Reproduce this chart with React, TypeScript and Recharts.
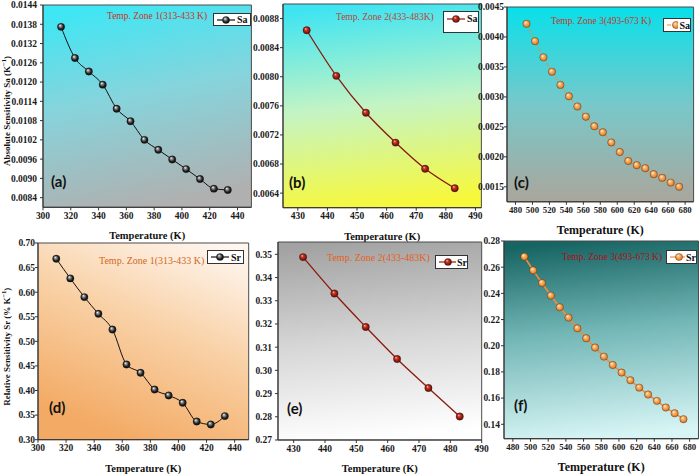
import React from 'react';
import { LineChart, Line, XAxis, YAxis, ReferenceArea, Label } from 'recharts';

const T_ZONE1 = [313, 323, 333, 343, 353, 363, 373, 383, 393, 403, 413, 423, 433];
const T_ZONE2 = [433, 443, 453, 463, 473, 483];
const T_ZONE3 = [493, 503, 513, 523, 533, 543, 553, 563, 573, 583, 593, 603, 613, 623, 633, 643, 653, 663, 673];

const SA_ZONE1 = [0.01372, 0.01275, 0.01233, 0.01192, 0.01117, 0.01078, 0.0102, 0.00989, 0.00959, 0.00929, 0.00898, 0.00868, 0.00864];
const SA_ZONE2 = [0.008639, 0.008012, 0.007505, 0.007095, 0.006735, 0.006468];
const SA_ZONE3 = [0.00422, 0.00393, 0.00366, 0.00342, 0.0032, 0.00301, 0.00284, 0.00267, 0.00251, 0.00241, 0.00224, 0.00208, 0.00193, 0.00186, 0.00181, 0.00171, 0.00165, 0.00157, 0.0015];
const SR_ZONE1 = [0.668, 0.628, 0.59, 0.556, 0.524, 0.453, 0.436, 0.402, 0.39, 0.375, 0.337, 0.331, 0.348];
const SR_ZONE2 = [0.3488, 0.3331, 0.3187, 0.3049, 0.2924, 0.2801];
const SR_ZONE3 = [0.268, 0.2576, 0.2479, 0.2383, 0.2294, 0.2215, 0.2133, 0.2057, 0.1986, 0.1917, 0.1853, 0.1795, 0.1736, 0.168, 0.1627, 0.1579, 0.1528, 0.1484, 0.1439];

const X_TICKS_1 = [300, 320, 340, 360, 380, 400, 420, 440];
const X_TICKS_2 = [430, 440, 450, 460, 470, 480, 490];
const X_TICKS_3 = [480, 500, 520, 540, 560, 580, 600, 620, 640, 660, 680];
const Y_TICKS_A = [0.0084, 0.009, 0.0096, 0.0102, 0.0108, 0.0114, 0.012, 0.0126, 0.0132, 0.0138, 0.0144];
const Y_TICKS_B = [0.0064, 0.0068, 0.0072, 0.0076, 0.008, 0.0084, 0.0088];
const Y_TICKS_C = [0.0015, 0.002, 0.0025, 0.003, 0.0035, 0.004, 0.0045];
const Y_TICKS_D = [0.3, 0.35, 0.4, 0.45, 0.5, 0.55, 0.6, 0.65, 0.7];
const Y_TICKS_E = [0.27, 0.28, 0.29, 0.3, 0.31, 0.32, 0.33, 0.34, 0.35];
const Y_TICKS_F = [0.14, 0.16, 0.18, 0.2, 0.22, 0.24, 0.26, 0.28];

const SERIF = "'Liberation Serif', 'Times New Roman', serif";
const SANS = "Lato, 'Open Sans', sans-serif";

const SPHERES: Record<string, string[][]> = {
  black: [['0', '#ffffff'], ['0.25', '#9a9a9a'], ['0.65', '#222222'], ['1', '#000000']],
  red: [['0', '#ffc4b4'], ['0.3', '#cc3a2a'], ['0.72', '#8a1408'], ['1', '#4a0500']],
  orange: [['0', '#fff6e6'], ['0.3', '#f9bc76'], ['0.72', '#ea8a34'], ['1', '#b85a10']],
};

const rows = (ts: number[], vs: number[]) => ts.map((t, i) => ({ t, v: vs[i] }));

const PANELS = [
  {
    id: 'pa', box: { L: 43.3, T: 5, R: 251.7, B: 207.3 }, data: rows(T_ZONE1, SA_ZONE1),
    xDomain: [300, 450], xTicks: X_TICKS_1, yDomain: [0.0081, 0.0144], yTicks: Y_TICKS_A, dec: 4,
    yGap: 3, xFont: 9.5, sphere: 'black', line: '#111', lw: 1, dash: undefined,
    bg: { x1: 0.3, y1: 0, x2: 0.5, y2: 1, stops: [['0', '#3fe6f4'], ['0.45', '#86d4dc'], ['1', '#b0b0b0']] },
    yTitle: { x: 7, y: 111, text: 'Absolute Sensitivity Sa (K', sup: '−1', post: ')' }, xTitleSize: 10.5,
    title: { text: 'Temp. Zone 1(313-433 K)', x: 107, y: 10, color: '#cc3322', size: 9.5 },
    legend: { x: 213, y: 13, w: 38, h: 13, name: 'Sa', top: false },
    letter: { text: '(a)', x: 51, y: 172 },
  },
  {
    id: 'pb', box: { L: 283.3, T: 4, R: 481.7, B: 207.7 }, data: rows(T_ZONE2, SA_ZONE2),
    xDomain: [425, 492], xTicks: X_TICKS_2, yDomain: [0.0062, 0.009], yTicks: Y_TICKS_B, dec: 4,
    yGap: 1, xFont: 9.5, sphere: 'red', line: '#8b1a10', lw: 1.3, dash: undefined,
    bg: { x1: 0.4, y1: 0, x2: 0.5, y2: 1, stops: [['0', '#3ee4f2'], ['0.5', '#c4f4c4'], ['1', '#f8f83a']] },
    yTitle: null, xTitleSize: 10.5,
    title: { text: 'Temp. Zone 2(433-483K)', x: 336, y: 11, color: '#b5473a', size: 9.5 },
    legend: { x: 443, y: 11, w: 36, h: 22, name: 'Sa', top: true },
    letter: { text: '(b)', x: 289, y: 173 },
  },
  {
    id: 'pc', box: { L: 506.7, T: 6.7, R: 693.3, B: 201.5 }, data: rows(T_ZONE3, SA_ZONE3),
    xDomain: [470, 690], xTicks: X_TICKS_3, yDomain: [0.00125, 0.0045], yTicks: Y_TICKS_C, dec: 4,
    yGap: 0, xFont: 8.8, sphere: 'orange', line: '#ef8c3c', lw: 1, dash: '4 1.5',
    bg: { x1: 0.5, y1: 0, x2: 0.5, y2: 1, stops: [['0', '#08e0ea'], ['0.5', '#78c8ca'], ['1', '#aaa69c']] },
    yTitle: null, xTitleSize: 12,
    title: { text: 'Temp. Zone 3(493-673 K)', x: 551, y: 15, color: '#c0392b', size: 9.5 },
    legend: { x: 663, y: 18, w: 28, h: 14, name: 'Sa', top: false },
    letter: { text: '(c)', x: 514, y: 173 },
  },
  {
    id: 'pd', box: { L: 38.3, T: 243.3, R: 249, B: 440 }, data: rows(T_ZONE1, SR_ZONE1),
    xDomain: [300, 450], xTicks: X_TICKS_1, yDomain: [0.3, 0.7], yTicks: Y_TICKS_D, dec: 2,
    yGap: 0, xFont: 9.5, sphere: 'black', line: '#111', lw: 1, dash: undefined,
    bg: { x1: 0.85, y1: 0, x2: 0.4, y2: 1, stops: [['0', '#fef6ef'], ['0.45', '#f9d2a8'], ['1', '#f3aa64']] },
    yTitle: { x: 7, y: 347, text: 'Relative Sensitivity Sr (% K', sup: '−1', post: ')' }, xTitleSize: 10.5,
    title: { text: 'Temp. Zone 1(313-433 K)', x: 99, y: 255, color: '#d2691e', size: 10 },
    legend: { x: 207, y: 250, w: 37, h: 14, name: 'Sr', top: false },
    letter: { text: '(d)', x: 49, y: 398 },
  },
  {
    id: 'pe', box: { L: 278, T: 242, R: 481.7, B: 440 }, data: rows(T_ZONE2, SR_ZONE2),
    xDomain: [425, 490], xTicks: X_TICKS_2, yDomain: [0.27, 0.3553], yTicks: Y_TICKS_E, dec: 2,
    yGap: 3, xFont: 9.5, sphere: 'red', line: '#8b1a10', lw: 1.3, dash: undefined,
    bg: { x1: 0.3, y1: 0, x2: 0.4, y2: 1, stops: [['0', '#a2a2a2'], ['0.5', '#d6d6d6'], ['1', '#ffffff']] },
    yTitle: null, xTitleSize: 10.5,
    title: { text: 'Temp. Zone 2(433-483K)', x: 327, y: 251.5, color: '#e5601c', size: 10 },
    legend: { x: 435, y: 255, w: 33, h: 14, name: 'Sr', top: false },
    letter: { text: '(e)', x: 287, y: 399 },
  },
  {
    id: 'pf', box: { L: 503.5, T: 241, R: 698, B: 438.7 }, data: rows(T_ZONE3, SR_ZONE3),
    xDomain: [470, 690], xTicks: X_TICKS_3, yDomain: [0.129, 0.28], yTicks: Y_TICKS_F, dec: 2,
    yGap: 1, xFont: 8.8, sphere: 'orange', line: '#ef8c3c', lw: 1.6, dash: undefined,
    bg: { x1: 0.4, y1: 0, x2: 0.5, y2: 1, stops: [['0', '#176563'], ['0.45', '#72b6b6'], ['1', '#d8f5f5']] },
    yTitle: null, xTitleSize: 12,
    title: { text: 'Temp. Zone 3(493-673 K)', x: 562, y: 251, color: '#a8101a', size: 9.5 },
    legend: { x: 666, y: 250, w: 31, h: 14, name: 'Sr', top: false },
    letter: { text: '(f)', x: 514, y: 396 },
  },
];

function SphereGrad({ id, kind }: { id: string; kind: string }) {
  return (
    <radialGradient id={id} cx="50%" cy="50%" r="55%" fx="35%" fy="30%">
      {SPHERES[kind].map((s, i) => (
        <stop key={i} offset={s[0]} stopColor={s[1]} />
      ))}
    </radialGradient>
  );
}

function Panel({ cfg }: { cfg: any }) {
  const { L, T, R, B } = cfg.box;
  const RM = 14;
  const left = L - 45;
  const top = T - 5;
  const w = R - L + 45 + RM;
  const h = B - T + 45;
  const plotW = R - L;
  const plotH = B - T;
  const sid = cfg.id + '-sph';
  const bid = cfg.id + '-bg';
  const yTickStyle = { fontSize: 9.5, fontWeight: 'bold', fill: '#1a1a1a', fontFamily: SERIF };
  const xTickStyle = { fontSize: cfg.xFont, fontWeight: 'bold', fill: '#1a1a1a', fontFamily: SERIF };
  const renderDot = (p: any) => (
    <circle key={'d' + p.index} cx={p.cx} cy={p.cy} r={3.7} fill={`url(#${sid})`} stroke="#222" strokeWidth={0.3} />
  );
  return (
    <div style={{ position: 'absolute', left, top, width: w, height: h }}>
      <LineChart width={w} height={h} data={cfg.data} margin={{ top: 5, right: RM, bottom: 0, left: 0 }} style={{ overflow: 'visible' }}>
        <defs>
          <linearGradient id={bid} x1={cfg.bg.x1} y1={cfg.bg.y1} x2={cfg.bg.x2} y2={cfg.bg.y2}>
            {cfg.bg.stops.map((s: string[], i: number) => (
              <stop key={i} offset={s[0]} stopColor={s[1]} />
            ))}
          </linearGradient>
          <SphereGrad id={sid} kind={cfg.sphere} />
        </defs>
        <ReferenceArea
          x1={cfg.xDomain[0]}
          x2={cfg.xDomain[1]}
          y1={cfg.yDomain[0]}
          y2={cfg.yDomain[1]}
          fill={`url(#${bid})`}
          fillOpacity={1}
          stroke="#4a4a4a"
          strokeWidth={1}
          ifOverflow="visible"
        />
        <XAxis
          dataKey="t"
          type="number"
          domain={cfg.xDomain}
          ticks={cfg.xTicks}
          allowDataOverflow
          interval={0}
          height={40}
          tickSize={3}
          tickMargin={2}
          tick={xTickStyle}
          stroke="#333"
        >
          <Label
            content={() => (
              <text
                x={45 + plotW / 2}
                y={5 + plotH + 32}
                textAnchor="middle"
                fontFamily={SERIF}
                fontWeight="bold"
                fontSize={cfg.xTitleSize}
                fill="#111"
              >
                Temperature (K)
              </text>
            )}
          />
        </XAxis>
        <YAxis
          type="number"
          domain={cfg.yDomain}
          ticks={cfg.yTicks}
          allowDataOverflow
          interval={0}
          width={45}
          tickSize={3}
          tickMargin={cfg.yGap}
          tick={yTickStyle}
          stroke="#333"
          tickFormatter={(v: number) => v.toFixed(cfg.dec)}
        >
          {cfg.yTitle ? (
            <Label
              content={() => {
                const x = cfg.yTitle.x - left;
                const y = cfg.yTitle.y - top;
                return (
                  <text
                    x={x}
                    y={y}
                    transform={`rotate(-90, ${x}, ${y})`}
                    textAnchor="middle"
                    dominantBaseline="central"
                    fontFamily={SERIF}
                    fontWeight="bold"
                    fontSize={9}
                    fill="#111"
                  >
                    {cfg.yTitle.text}
                    <tspan dy={-4} fontSize={6.5}>{cfg.yTitle.sup}</tspan>
                    <tspan dy={4}>{cfg.yTitle.post}</tspan>
                  </text>
                );
              }}
            />
          ) : null}
        </YAxis>
        <Line
          dataKey="v"
          type="monotone"
          stroke={cfg.line}
          strokeWidth={cfg.lw}
          strokeDasharray={cfg.dash}
          dot={renderDot}
          activeDot={false}
          isAnimationActive={false}
        />
      </LineChart>
    </div>
  );
}

function LegendBox({ cfg }: { cfg: any }) {
  const lg = cfg.legend;
  const gid = cfg.id + '-lgs';
  return (
    <div
      style={{
        position: 'absolute',
        left: lg.x,
        top: lg.y,
        width: lg.w,
        height: lg.h,
        boxSizing: 'border-box',
        border: '1px solid #333',
        background: '#fff',
        display: 'flex',
        alignItems: lg.top ? 'flex-start' : 'center',
        paddingLeft: 2,
        paddingTop: lg.top ? 1 : 0,
      }}
    >
      <svg width={20} height={10} style={{ display: 'block', marginTop: lg.top ? 1 : 0 }}>
        <defs>
          <SphereGrad id={gid} kind={cfg.sphere} />
        </defs>
        <line x1={1} y1={5} x2={19} y2={5} stroke={cfg.line} strokeWidth={1.2} strokeDasharray={cfg.dash} />
        <circle cx={10} cy={5} r={3.6} fill={`url(#${gid})`} stroke="#222" strokeWidth={0.3} />
      </svg>
      <span style={{ fontFamily: SERIF, fontWeight: 'bold', fontSize: 10, color: '#111', marginLeft: 1, lineHeight: '11px' }}>{lg.name}</span>
    </div>
  );
}

export default function App() {
  return (
    <div style={{ position: 'absolute', left: 0, top: 0, width: 700, height: 476, background: '#ffffff', overflow: 'hidden' }}>
      {PANELS.map((cfg) => (
        <Panel key={cfg.id} cfg={cfg} />
      ))}
      {PANELS.map((cfg) => (
        <div
          key={cfg.id + '-t'}
          style={{
            position: 'absolute',
            left: cfg.title.x,
            top: cfg.title.y,
            fontFamily: SERIF,
            fontSize: cfg.title.size,
            color: cfg.title.color,
            whiteSpace: 'nowrap',
            lineHeight: '12px',
          }}
        >
          {cfg.title.text}
        </div>
      ))}
      {PANELS.map((cfg) => (
        <LegendBox key={cfg.id + '-l'} cfg={cfg} />
      ))}
      {PANELS.map((cfg) => (
        <div
          key={cfg.id + '-k'}
          style={{
            position: 'absolute',
            left: cfg.letter.x,
            top: cfg.letter.y,
            fontFamily: SANS,
            fontWeight: 'bold',
            fontSize: 15,
            color: '#111',
            lineHeight: '18px',
            whiteSpace: 'nowrap',
          }}
        >
          {cfg.letter.text}
        </div>
      ))}
    </div>
  );
}
